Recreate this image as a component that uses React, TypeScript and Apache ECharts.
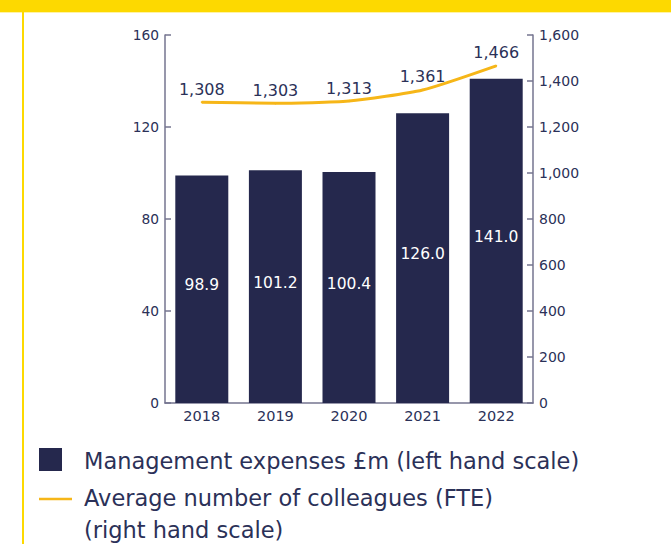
import React, { useEffect, useRef } from "react";
import * as echarts from "echarts";

const years = ["2018", "2019", "2020", "2021", "2022"];
const expenses = [98.9, 101.2, 100.4, 126.0, 141.0];
const colleagues = [1308, 1303, 1313, 1361, 1466];
const leftTicks = { min: 0, max: 160, interval: 40 };
const rightTicks = { min: 0, max: 1600, interval: 200 };
const legendBar = "Management expenses £m (left hand scale)";
const legendLine1 = "Average number of colleagues (FTE)";
const legendLine2 = "(right hand scale)";

const NAVY = "#25284d";
const TEXT = "#2b3158";
const AXIS = "#74748f";
const YELLOW = "#fdd900";
const LINE = "#f6b618";
const FONT = "DejaVu Sans";

const fmt = (v: number) => v.toLocaleString("en-GB");

export default function App() {
  const ref = useRef<HTMLDivElement>(null);
  useEffect(() => {
    if (!ref.current) return;
    const chart = echarts.init(ref.current, undefined, { renderer: "svg" });
    chart.setOption({
      animation: false,
      backgroundColor: "#ffffff",
      textStyle: { fontFamily: FONT },
      grid: { left: 165, right: 138, top: 35, bottom: 141 },
      xAxis: {
        type: "category",
        data: years,
        axisLine: { lineStyle: { color: AXIS, width: 1.5 } },
        axisTick: { inside: true, length: 8, lineStyle: { color: AXIS, width: 1.5 } },
        axisLabel: { color: TEXT, fontSize: 14.5, margin: 5, fontFamily: FONT },
      },
      yAxis: [
        {
          type: "value",
          ...leftTicks,
          position: "left",
          splitLine: { show: false },
          axisLine: { show: true, lineStyle: { color: AXIS, width: 1.5 } },
          axisTick: { show: true, inside: true, length: 6, lineStyle: { color: AXIS, width: 1.5 } },
          axisLabel: { color: TEXT, fontSize: 13.8, margin: 6, fontFamily: FONT },
        },
        {
          type: "value",
          ...rightTicks,
          position: "right",
          splitLine: { show: false },
          axisLine: { show: true, lineStyle: { color: AXIS, width: 1.5 } },
          axisTick: { show: true, inside: true, length: 6, lineStyle: { color: AXIS, width: 1.5 } },
          axisLabel: { color: TEXT, fontSize: 14, margin: 6, fontFamily: FONT, formatter: (v: number) => fmt(v) },
        },
      ],
      series: [
        {
          name: legendBar,
          type: "bar",
          data: expenses,
          barWidth: 53,
          itemStyle: { color: NAVY },
          label: {
            show: true,
            position: "inside",
            offset: [0, -4],
            color: "#ffffff",
            fontSize: 15.5,
            fontFamily: FONT,
            formatter: (p: any) => Number(p.value).toFixed(1),
          },
        },
        {
          name: legendLine1,
          type: "line",
          yAxisIndex: 1,
          data: colleagues,
          smooth: 0.2,
          symbol: "circle",
          symbolSize: 2,
          showSymbol: true,
          itemStyle: { color: LINE },
          lineStyle: { color: LINE, width: 3 },
          label: {
            show: true,
            position: "top",
            distance: 4,
            color: TEXT,
            fontSize: 16,
            fontFamily: FONT,
            formatter: (p: any) => fmt(p.value),
          },
        },
      ],
      graphic: [
        { type: "rect", shape: { x: 0, y: 0, width: 671, height: 12 }, style: { fill: YELLOW } },
        { type: "rect", shape: { x: 0, y: 12, width: 671, height: 1 }, style: { fill: "#fff3a6" } },
        { type: "rect", shape: { x: 22, y: 12, width: 2, height: 532 }, style: { fill: YELLOW } },
        { type: "rect", shape: { x: 39, y: 448, width: 23, height: 23 }, style: { fill: NAVY } },
        {
          type: "text",
          x: 84,
          y: 461,
          style: { text: legendBar, fill: TEXT, fontSize: 22.5, fontFamily: FONT, verticalAlign: "middle" },
        },
        {
          type: "line",
          shape: { x1: 39, y1: 499, x2: 72, y2: 499 },
          style: { stroke: LINE, lineWidth: 2.5 },
        },
        {
          type: "text",
          x: 84,
          y: 498,
          style: { text: legendLine1, fill: TEXT, fontSize: 22.5, fontFamily: FONT, verticalAlign: "middle" },
        },
        {
          type: "text",
          x: 84,
          y: 530,
          style: { text: legendLine2, fill: TEXT, fontSize: 22.5, fontFamily: FONT, verticalAlign: "middle" },
        },
      ],
    });
    return () => chart.dispose();
  }, []);
  return (
    <div
      ref={ref}
      style={{ position: "fixed", left: 0, top: 0, width: 671, height: 544 }}
    />
  );
}
